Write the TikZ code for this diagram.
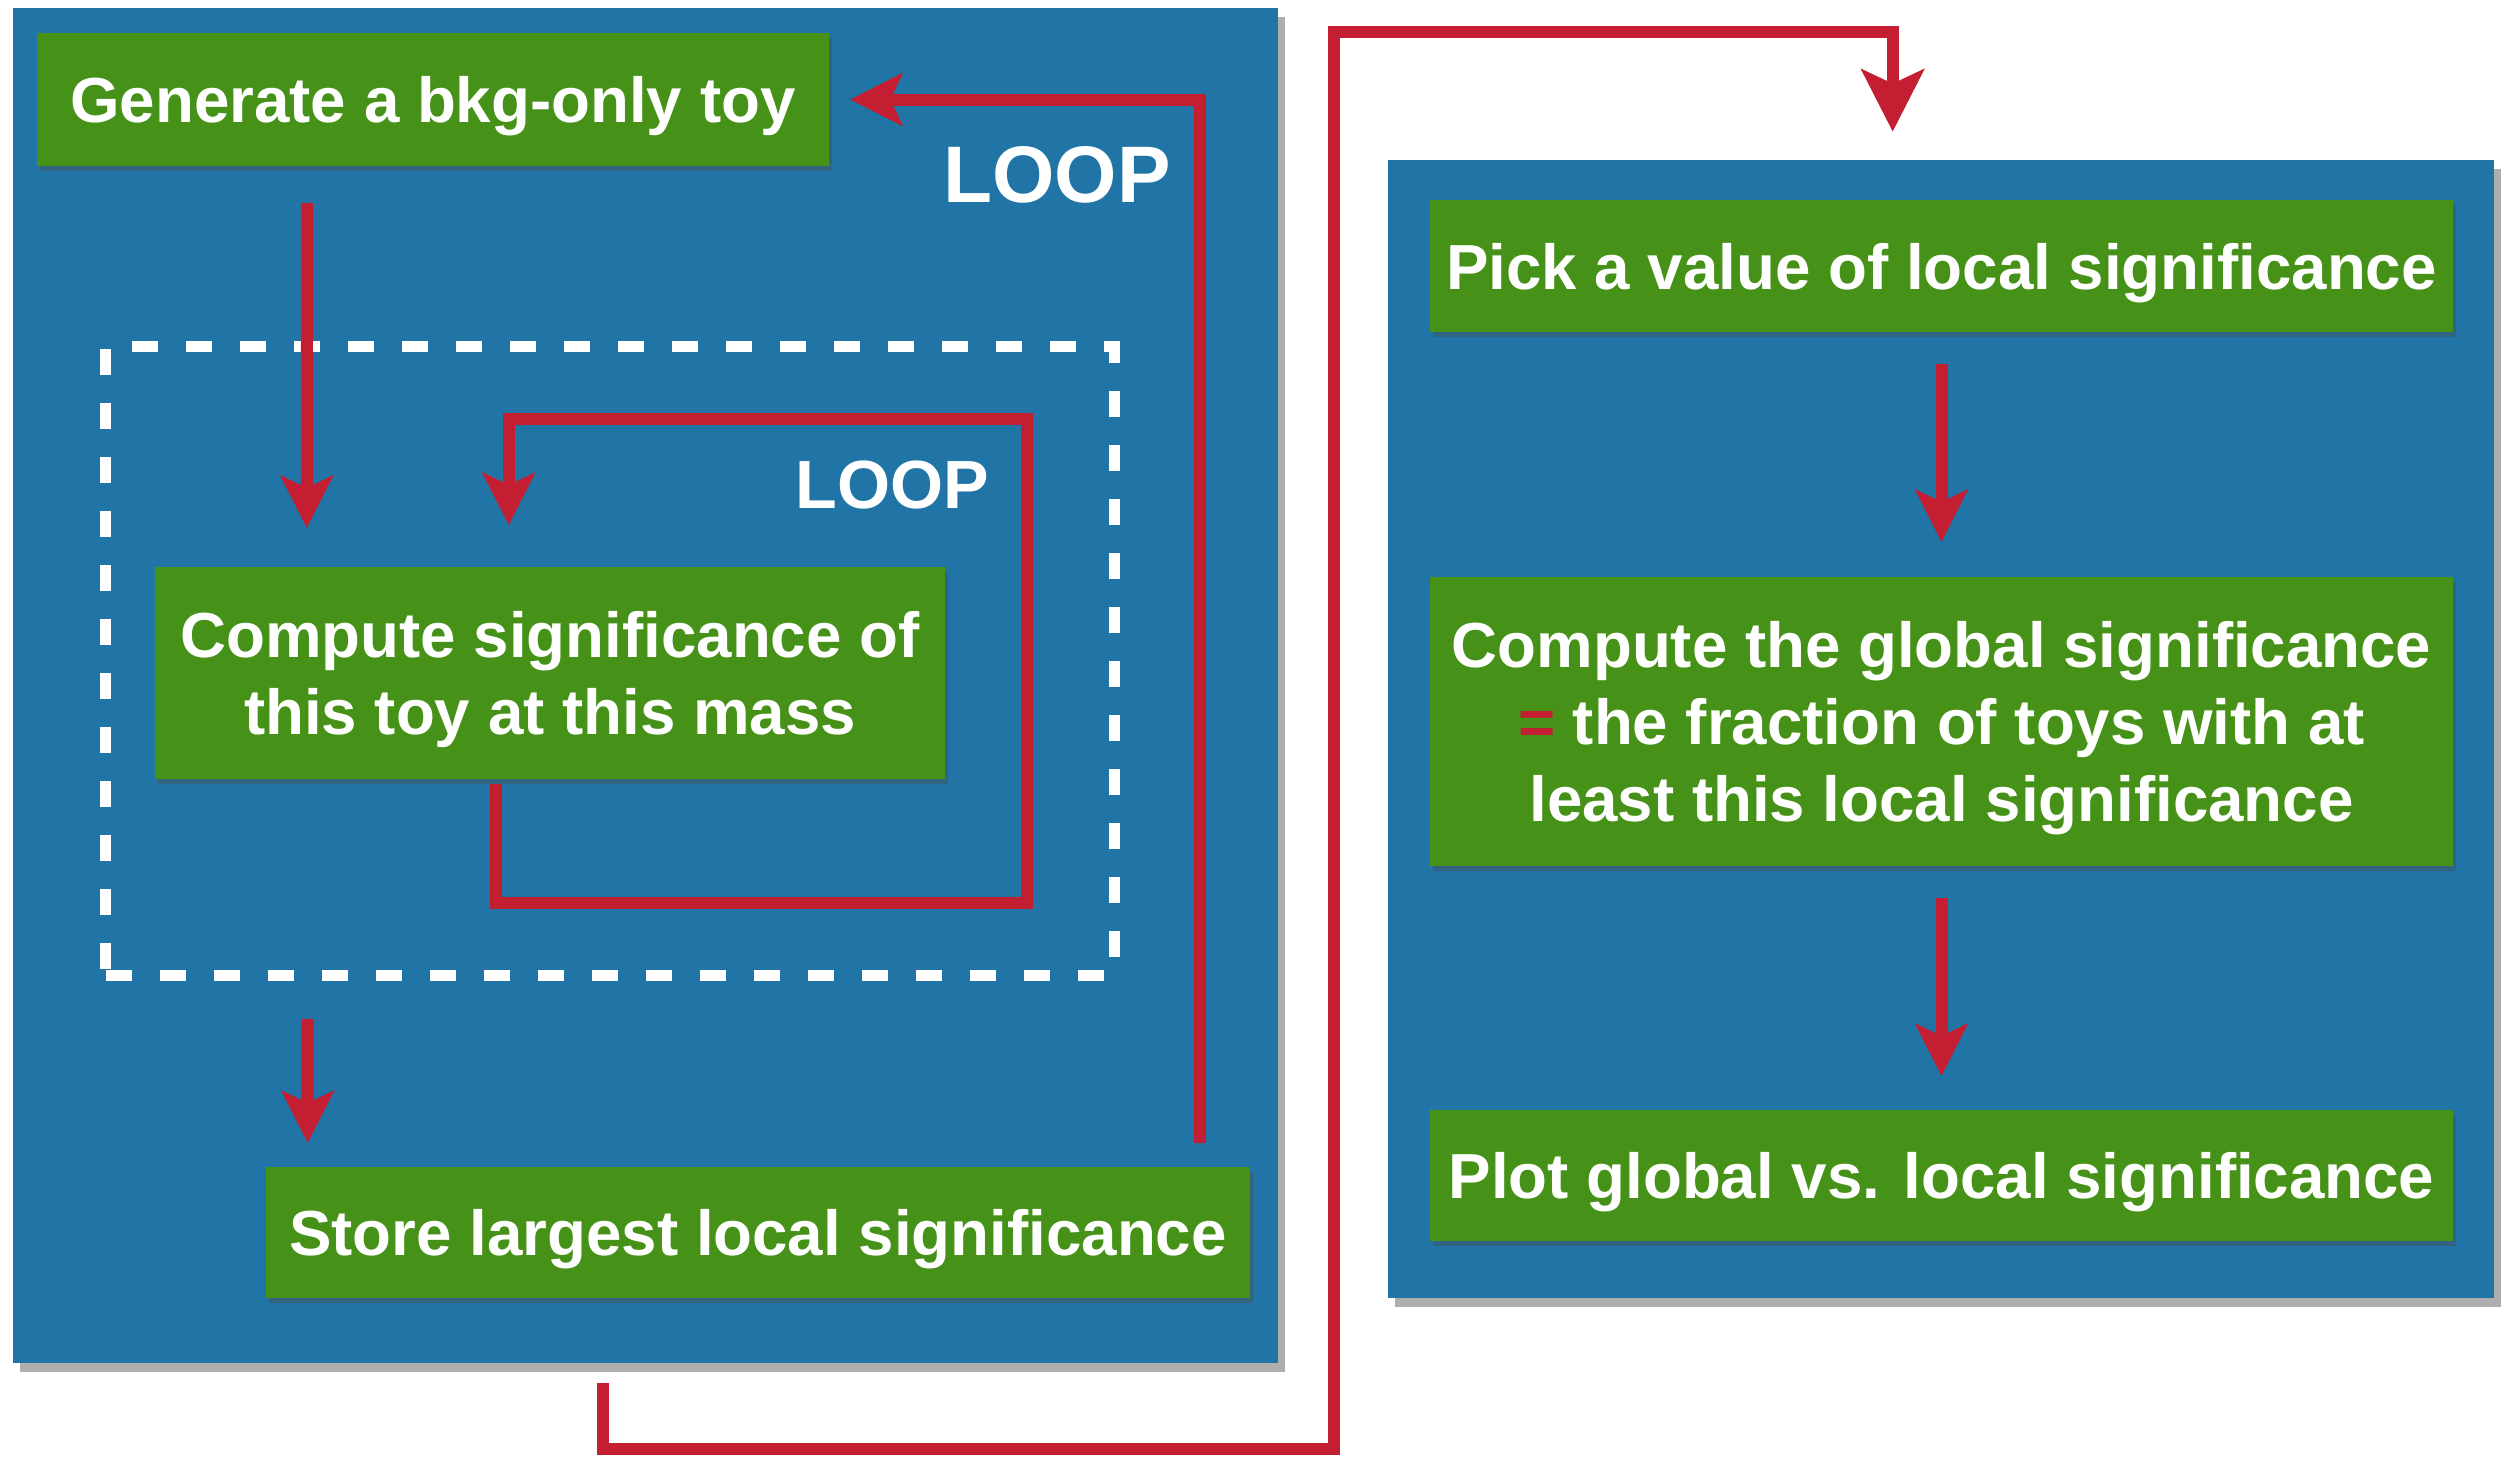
\documentclass[tikz,border=0pt]{standalone}
\usepackage{fontspec}
\setmainfont{Liberation Sans}
\usetikzlibrary{arrows.meta,shadows}
\definecolor{panelblue}{RGB}{33,117,166}
\definecolor{boxgreen}{RGB}{70,146,24}
\definecolor{arrred}{RGB}{196,30,50}
\begin{document}
\begin{tikzpicture}[x=0.01cm,y=-0.01cm,
  panel/.style={fill=panelblue, draw=none, inner sep=0pt, outer sep=0pt,
    drop shadow={shadow xshift=0.07cm, shadow yshift=-0.09cm, opacity=0.45, fill=black!70}},
  gbox/.style={fill=boxgreen, text=white, font=\bfseries\fontsize{18.1pt}{21.9pt}\selectfont,
    align=center, inner sep=0pt, outer sep=0pt, text depth=-0.03cm,
    drop shadow={shadow xshift=0.03cm, shadow yshift=-0.05cm, opacity=0.4, fill=black!70}},
  arr/.style={draw=arrred, line width=0.12cm, line join=miter,
    -{Stealth[length=0.52cm,width=0.52cm,inset=0.12cm]}},
  bigarr/.style={draw=arrred, line width=0.12cm, line join=miter,
    -{Stealth[length=0.62cm,width=0.62cm,inset=0.14cm]}},
  loopl/.style={text=white, inner sep=0pt, anchor=base},
]
\useasboundingbox (0,0) rectangle (2514,1459);
\fill[white] (0,0) rectangle (2514,1459);

% panels
\node[panel, minimum width=12.65cm, minimum height=13.55cm] (lp) at (645.5,685.5) {};
\node[panel, minimum width=11.06cm, minimum height=11.38cm] (rp) at (1941,729) {};

% dashed inner loop region
\node[draw=white, line width=0.11cm, dash pattern=on 0.26cm off 0.28cm,
  minimum width=10.08cm, minimum height=6.28cm, inner sep=0pt, outer sep=0pt] (inner) at (610,661) {};

% green boxes
\node[gbox, minimum width=7.92cm, minimum height=1.33cm] (gen) at (433,99.5) {Generate a bkg-only toy};
\node[gbox, minimum width=7.90cm, minimum height=2.12cm] (comp) at (550,673) {Compute significance of\\this toy at this mass};
\node[gbox, minimum width=9.84cm, minimum height=1.31cm] (store) at (758,1232.5) {Store largest local significance};
\node[gbox, minimum width=10.23cm, minimum height=1.32cm] (pick) at (1941.5,266) {Pick a value of local significance};
\node[gbox, minimum width=10.23cm, minimum height=2.89cm] (glob) at (1941.5,721.5) {Compute the global significance\\\textcolor{arrred}{=} the fraction of toys with at\\least this local significance};
\node[gbox, minimum width=10.23cm, minimum height=1.31cm] (plot) at (1941.5,1175.5) {Plot global vs. local significance};

% LOOP labels
\node[loopl, font=\bfseries\fontsize{22.8pt}{26pt}\selectfont] (loop1) at (1057,202) {LOOP};
\node[loopl, font=\bfseries\fontsize{19.4pt}{22pt}\selectfont] (loop2) at (892,508) {LOOP};

% connectors
\draw[arr] ([shift={(270,37)}]gen.south west) -- ([shift={(152,-39)}]comp.north west);
\draw[arr] ([shift={(341,5)}]comp.south west) -- ++(0,119) -- ++(531,0) -- ++(0,-484) -- ++(-518,0) -- ++(0,106);
\draw[arr] ([shift={(202,44)}]inner.south west) -- ([shift={(42,-24)}]store.north west);
\draw[arr] ([shift={(-50,-24)}]store.north east) |- ([shift={(21,0)}]gen.east);

\coordinate (c1) at (1334,32);
\draw[bigarr] ([shift={(590,20)}]lp.south west) -- ++(0,66) -| (c1) -| ([shift={(505,-28)}]rp.north west);

\draw[arr] ([shift={(0,32)}]pick.south) -- ([shift={(0,-35)}]glob.north);
\draw[arr] ([shift={(0,32)}]glob.south) -- ([shift={(0,-34)}]plot.north);
\end{tikzpicture}
\end{document}
